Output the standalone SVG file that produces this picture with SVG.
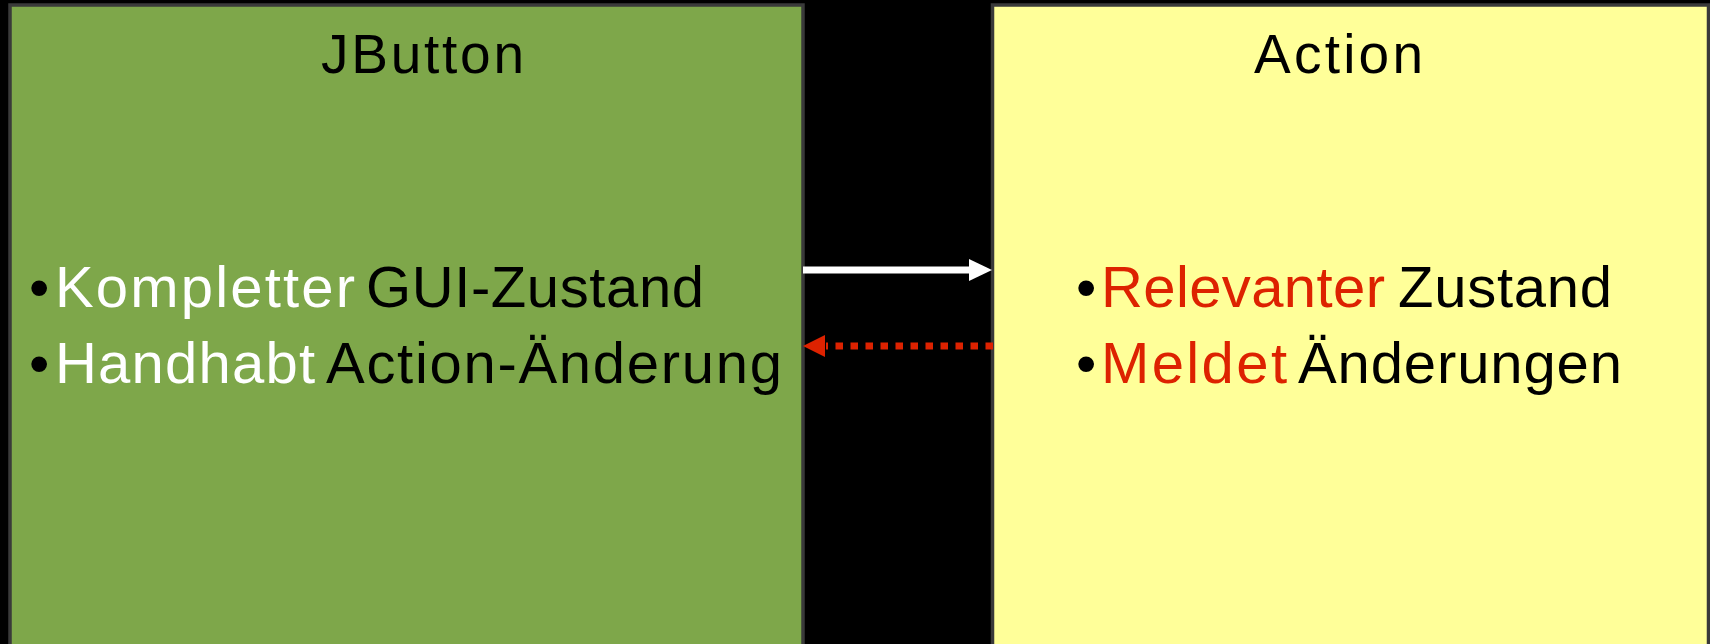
<svg xmlns="http://www.w3.org/2000/svg" width="1710" height="644" viewBox="0 0 1710 644">
  <style>
    .box { stroke: #3a3a3a; stroke-width: 3.5; }
    .title { font-family: "Liberation Sans", Arial, sans-serif; font-size: 55px; fill: #000; }
    .item { font-family: "Liberation Sans", Arial, sans-serif; font-size: 58px; fill: #000; }
    .white { fill: #ffffff; }
    .red { fill: #dd2200; }
  </style>
  <rect x="0" y="0" width="1710" height="644" fill="#000"/>
  <g id="jbutton">
    <rect class="box" x="10" y="5" width="793" height="700" fill="#7ea74a"/>
    <text class="title" x="321" y="73" textLength="203" lengthAdjust="spacing">JButton</text>
    <text class="item" y="307"><tspan x="29">•</tspan></text>
    <text class="item white" x="55" y="307" textLength="300" lengthAdjust="spacing">Kompletter</text>
    <text class="item" x="366" y="307" textLength="338" lengthAdjust="spacing">GUI-Zustand</text>
    <text class="item" y="383"><tspan x="29">•</tspan></text>
    <text class="item white" x="55" y="383" textLength="260" lengthAdjust="spacing">Handhabt</text>
    <text class="item" x="326" y="383" textLength="456" lengthAdjust="spacing">Action-Änderung</text>
  </g>
  <g id="action">
    <rect class="box" x="992.5" y="5" width="716" height="700" fill="#ffff99"/>
    <text class="title" x="1254" y="73" textLength="169" lengthAdjust="spacing">Action</text>
    <text class="item" y="307"><tspan x="1076">•</tspan></text>
    <text class="item red" x="1101" y="307" textLength="284" lengthAdjust="spacing">Relevanter</text>
    <text class="item" x="1398" y="307" textLength="214" lengthAdjust="spacing">Zustand</text>
    <text class="item" y="383"><tspan x="1076">•</tspan></text>
    <text class="item red" x="1101" y="383" textLength="186" lengthAdjust="spacing">Meldet</text>
    <text class="item" x="1298" y="383" textLength="324" lengthAdjust="spacing">Änderungen</text>
  </g>
  <g id="connectors">
    <line x1="803" y1="270" x2="971" y2="270" stroke="#ffffff" stroke-width="7"/>
    <polygon points="969,259 992,270 969,281" fill="#ffffff"/>
    <line x1="993" y1="346" x2="826" y2="346" stroke="#dd2200" stroke-width="7" stroke-dasharray="7.5 7.5"/>
    <polygon points="825,335 803,346 825,357" fill="#dd2200"/>
  </g>
</svg>
